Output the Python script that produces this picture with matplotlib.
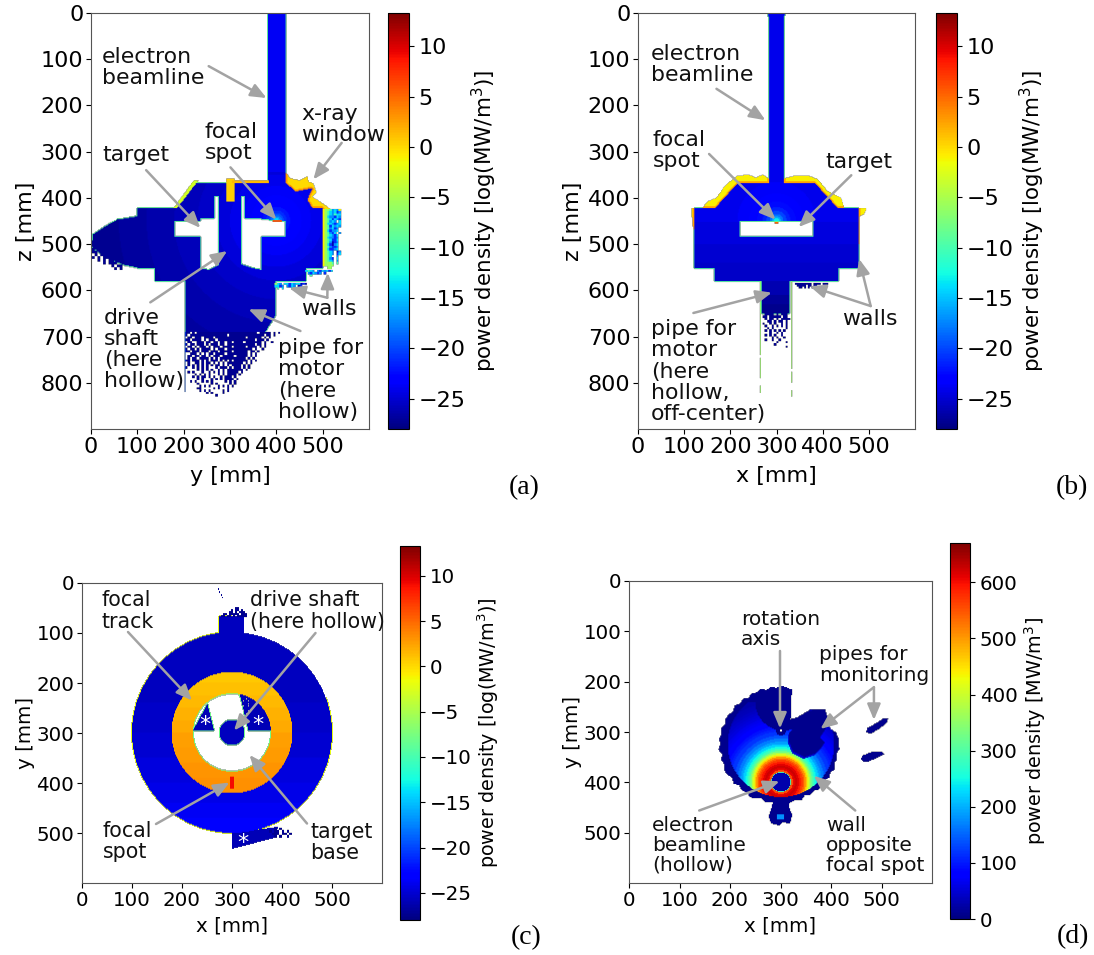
import numpy as np
import matplotlib
matplotlib.use("Agg")
import matplotlib.pyplot as plt
from matplotlib.path import Path

W, H = 1094, 955
CELL = 2
GREY = "#a3a3a3"
LOG_LIM = (-28, 13.3)
LIN_LIM = (0, 670)
LOG_TICKS = [-25, -20, -15, -10, -5, 0, 5, 10]
LIN_TICKS = [0, 100, 200, 300, 400, 500, 600]
KEY = {"y": -1, "g": -6, "t": -10, "c": -14, "l": -17, "b": -21, "n": -26, "#": -27.3}

# ---- panel a, y-z cut [mm]
a_chamber = [(383, 0), (420, 0), (420, 368), (442, 386), (478, 379), (467, 404), (478, 422), (500, 422),
             (500, 551), (463, 551), (463, 580), (397, 580), (397, 656), (370, 700), (345, 735), (325, 753),
             (305, 782), (290, 782), (275, 764), (240, 745), (204, 700), (204, 580), (139, 580), (139, 551),
             (101, 551), (68, 544), (28, 526), (1, 505), (5, 479), (30, 462), (57, 447), (101, 440), (101, 422),
             (180, 422), (225, 368), (383, 368)]
a_hole_left = [(267, 396), (276, 396), (276, 545), (255, 556), (236, 552), (236, 484), (180, 484), (180, 449),
               (236, 449), (236, 443), (267, 443)]
a_hole_right = [(325, 396), (332, 396), (332, 443), (368, 445), (400, 449), (420, 449), (420, 484), (368, 484),
                (368, 556), (350, 552), (325, 544)]
a_window = [(420, 345), (431, 358), (450, 362), (467, 354), (470, 365), (480, 368), (486, 388), (478, 398),
            (500, 412), (517, 424), (500, 424), (478, 422), (467, 404), (478, 379), (442, 386), (420, 368)]
a_post = [(292, 358), (309, 358), (309, 408), (292, 408)]
a_top_strip = [(305, 362), (383, 362), (383, 368), (305, 368)]
a_left_strip = [(178, 422), (222, 362), (232, 362), (186, 422)]
a_spot = [(392, 448), (412, 448), (412, 452), (392, 452)]
a_ring_edges = [5, 8, 12, 16, 22, 30, 40, 55, 75, 100, 130, 170, 220, 280, 340, 400, 460]
a_ring_vals = [-14, -16, -18, -19.5, -21, -22, -22.7, -23.2, -23.6, -24.1, -24.7, -25.3, -25.9, -26.3, -26.8, -27.2, -27.5]
a_beam_val = -23.7
a_wall_right = ["yggtlcly", "ygtclcbl", "ygtcltcc", "ygcllbcl", "ygtcbclb", "ygtlcl.c", "ygcclblc", "ygtbclcl", "ygtlcbl",
                "ygcbllc", "ygtlbc.l", "ygtclbc", "ygcllbl", "ygtcbbc", "ygtlnbl", "ygcbnlc", "ygtlbbl", "ygcbblc", "ygtcl.nl",
                "ygtcl.bc", "ygtc..l", "ygtlb.c", "ygtcl.l", "ygggt.t", "ygggg.", "..gg"]
a_wall_low1 = ["ctcl.lbclcbc", ".lbclbl.b", "..t..."]
a_wall_low2 = ["gcl.ccbclccnbn", "ccbl.lbcl.nb", ".t.c...c.b"]
a_edge_specks = ["#.##.#", "##.#.#.", ".#.##.#", "#.#.###.", "..#.#.##.", "....#.###", ".......#.##", "........#.#"]
a_bottom = ["##.#.##########################.#####.#.#",
            "#.################.###############.##.#",
            ".##.###.####.#############.######.#.#",
            "##.####.#.###.################.###.#",
            ".##..###.##.##.##.##.####.#######.#..#",
            "#.##.###.#.###.##.############.##.#",
            ".##.#.###.#.###.####.#####.####.#.#",
            "#.##.#.####.#.###.###########.#..#",
            "##.###.###.###.#####.######.##.#",
            "..###.#.#.##.####.#########.#.#",
            ".##.##.##.#.###.#####.#####.#.#",
            ".#.##.####.#.#.###########.#.#",
            "##.###.#.#.###.#.#.#.######.#.#",
            ".#..##.#.##.#.#.#.#######.#.#",
            ".#.#.#.#.#.#.##.#.#.####.#.#",
            "#..#.#.#.#...#.###.#.###.#.#",
            ".....#.#.#.#..#.#.#######.#",
            ".#.#...#..#.#.#.#.#####.#",
            "....#.#.#.#...#.#.####.#",
            "...#.#.##.#.#..#.###.#",
            ".....#.#...#.#.#.####.#",
            "..#.#..#.#.#.....#.#.#",
            ".....#.....#.#.....#.#",
            "......#.#.#...#.#.#.#",
            ".....##.....#.#...#",
            "......#.#.#.....#.#",
            ".........#.#....#",
            ".............#",
            ]

# ---- panel b, x-z cut [mm]
b_chamber = [(284, 10), (280, 0), (320, 0), (315, 10), (315, 368), (383, 368), (433, 422), (477, 422), (477, 551),
             (433, 551), (433, 580), (328, 580), (328, 650), (269, 650), (269, 580), (167, 580), (167, 551),
             (122, 551), (122, 422), (167, 422), (216, 368), (284, 368)]
b_hole = [(220, 449), (380, 449), (380, 484), (220, 484)]
b_yellow_left = [(140, 422), (150, 408), (170, 400), (190, 372), (215, 352), (240, 350), (255, 356), (270, 350),
                 (284, 358), (284, 368), (216, 368), (167, 422)]
b_yellow_right = [(315, 368), (315, 358), (340, 352), (370, 352), (390, 360), (410, 385), (440, 400), (447, 422),
                  (433, 422), (383, 368)]
b_yellow_side_l = [(116, 422), (122, 422), (122, 470), (118, 460)]
b_yellow_side_r = [(477, 422), (495, 422), (490, 435), (480, 440), (479, 500), (477, 500)]
b_spot = [(296, 451), (304, 451), (304, 456), (296, 456)]
b_ring_edges = [6, 10, 15, 22, 30, 42, 60, 85, 120]
b_ring_vals = [-13, -16, -18, -20, -21.5, -22.5, -23, -23.5, -24]
b_band_edges = [500, 540, 580, 610, 630, 660]
b_band_vals = [-24.6, -25, -25.4, -26.2, -27, -27.5]
b_beam_val = -24
b_pipe_specks = [".####.#.###.", "##.#####.##.", ".#.##.#.####", "..##.#.##.#.", "#..#.#..#.#.", ".#..#.#.#.#.",
                 "..#.#.....#.", ".#.#.#.#.#..", "...#..#.#...", ".#.#.#..#...", "....#.#..#..", ".#..#..#....",
                 "......#...#.", ".....#......", "..........#."]
b_wall_specks = ["#########.####.###", ".#####.##.##...", "..##.#.#.#"]
b_pipe_left = [(580, 740), (745, 790), (805, 822)]
b_pipe_right = [(580, 770), (775, 800), (815, 830)]

# ---- panel c, x-y cut through the target [mm]
c_tab = [(275, 68), (323, 68), (323, 105), (275, 105)]
c_base_tab = [(301, 500), (392, 488), (385, 510), (301, 532)]
c_left_sector = [(251, 243), (222, 296), (264, 296)]
c_right_sector = [(315, 222), (400, 222), (400, 296), (333, 296)]
c_spot = [(297, 387), (303, 387), (303, 411), (297, 411)]
c_disk_edges = [240, 300, 350, 400, 440, 470, 510]
c_disk_vals = [-25.7, -25.4, -25, -24.6, -24.2, -23.7, -23.4]
c_ring_edges = [200, 225, 250, 275, 300, 330, 360, 390, 425]
c_ring_vals = [0.8, 1.1, 1.4, 1.7, 2.1, 2.5, 2.8, 3.0, 3.2]
c_tab_specks = ["........##....", "......#.##.#..", ".....##.#.###.", "..##.#####.###", ".##.##.#.#####"]
c_top_trace = ["#", "#", ".", ".#", ".#", "..", "...#", "...#", "....", "....#"]
c_base_specks = ["..#.#...", "#.##.#.#.", ".###.##.#", "..#.#..#"]
c_sector_holes = ["..#.", ".#.#", "#..#.", ".#.#", "#..", ".#.#", "..#"]
c_stars = [(245, 283), (352, 283), (322, 520)]

# ---- panel d, x-y cut at the wall [MW/m3]
d_rim_radii = [113, 116, 111, 115, 112, 117, 113, 116, 111, 114, 117, 113, 116, 112, 118, 114, 117, 121, 124, 119,
               116, 120, 114, 118, 122, 117, 120, 116, 122, 118, 121, 124, 119, 122, 118, 124, 120, 123, 119, 122,
               117, 121, 118, 115, 119, 114, 117, 112, 116, 113, 117, 111, 115, 112, 116, 113, 110, 114, 111, 115,
               112, 110, 114, 111, 115, 112, 116, 113, 117, 114, 111, 115]
d_blob = [(317, 303), (334, 280), (364, 256), (387, 256), (394, 276), (387, 296), (377, 312), (387, 322), (370, 342),
          (347, 350), (324, 339), (317, 322)]
d_notch = [(322, 205), (319, 275), (332, 272), (358, 256), (384, 256), (398, 295), (414, 305), (500, 240), (420, 205)]
d_pipe_upper = [(468, 302), (470, 293), (485, 285), (502, 274), (512, 274), (508, 284), (492, 296), (478, 304)]
d_pipe_lower = [(458, 355), (462, 347), (480, 340), (498, 339), (503, 345), (490, 352), (472, 360), (462, 360)]
d_foot = [(285, 430), (316, 430), (316, 450), (322, 465), (318, 482), (304, 480), (296, 486), (280, 482), (276, 468),
          (282, 450)]
d_foot_core = [(292, 464), (306, 464), (306, 474), (292, 474)]
d_ring_edges = [24, 28, 32, 36, 40, 44, 47, 50, 53, 56, 59, 62, 66, 70, 75, 80, 86, 92, 100, 105, 110, 115, 120, 125,
                130, 135, 140, 145, 150, 155, 160, 170, 180, 190, 200, 400]
d_ring_vals = [560, 610, 625, 610, 590, 565, 535, 500, 455, 410, 365, 320, 285, 250, 220, 190, 165, 140, 120, 105, 95,
               85, 78, 70, 63, 57, 51, 46, 41, 36, 32, 27, 22, 17, 14, 12]
d_dark_val = 8
d_hole_val = 28
d_rim_val = 300
d_blob_edge_val = 45


def coords(nx, ny):
    return np.meshgrid((np.arange(nx) + 0.5) * CELL, (np.arange(ny) + 0.5) * CELL)


def inside(poly, X, Y):
    pts = np.c_[X.ravel(), Y.ravel()]
    return Path(poly).contains_points(pts).reshape(X.shape)


def lookup(dist, edges, vals):
    vals = np.array(vals, dtype=float)
    return vals[np.clip(np.searchsorted(edges, dist), 0, len(vals) - 1)]


def dilate(m):
    out = m.copy()
    out[1:, :] |= m[:-1, :]
    out[:-1, :] |= m[1:, :]
    out[:, 1:] |= m[:, :-1]
    out[:, :-1] |= m[:, 1:]
    return out


def paint(grid, rows, x0, y0, cell):
    for j, row in enumerate(rows):
        for i, ch in enumerate(row):
            if ch == ".":
                continue
            ix0, ix1 = int((x0 + i * cell) / CELL), int((x0 + (i + 1) * cell) / CELL)
            iy0, iy1 = int((y0 + j * cell) / CELL), int((y0 + (j + 1) * cell) / CELL)
            grid[iy0:iy1, ix0:ix1] = KEY[ch]


def clear(grid, rows, x0, y0, cell):
    for j, row in enumerate(rows):
        for i, ch in enumerate(row):
            if ch == "#":
                ix, iy = int((x0 + i * cell) / CELL), int((y0 + j * cell) / CELL)
                grid[iy:iy + 1, ix:ix + 1] = np.nan


def panel_a():
    X, Y = coords(300, 450)
    grid = np.full(X.shape, np.nan)
    body = inside(a_chamber, X, Y)
    grid[body] = lookup(np.hypot(X - 400, Y - 449), a_ring_edges, a_ring_vals)[body]
    grid[body & (Y < 345)] = a_beam_val
    grid[Y > 690] = np.nan
    grid[inside(a_hole_left, X, Y) | inside(a_hole_right, X, Y)] = np.nan
    solid = ~np.isnan(grid)
    edge = dilate(solid) & ~solid & (Y < 690)
    grid[edge] = -9
    window = inside(a_window, X, Y) & ~body
    grid[window] = 0
    grid[window & dilate(dilate(body))] = 3
    grid[inside(a_post, X, Y)] = 0.5
    grid[inside(a_top_strip, X, Y)] = 1.5
    grid[inside(a_left_strip, X, Y)] = -3
    grid[inside(a_spot, X, Y)] = 6
    paint(grid, a_wall_right, 500, 424, 5)
    paint(grid, a_wall_low1, 463, 556, 5)
    paint(grid, a_wall_low2, 397, 584, 5)
    paint(grid, a_edge_specks, 2, 508, 6)
    paint(grid, a_bottom, 204, 690, 5)
    grid[(np.abs(X - 203) < 1.5) & (Y > 690) & (Y < 820)] = -19
    return grid


def panel_b():
    X, Y = coords(300, 450)
    grid = np.full(X.shape, np.nan)
    body = inside(b_chamber, X, Y)
    field = lookup(Y, b_band_edges, b_band_vals)
    upper = Y < 452
    field[upper] = lookup(np.hypot(X - 300, Y - 450), b_ring_edges, b_ring_vals)[upper]
    grid[body] = field[body]
    grid[body & (Y < 345)] = b_beam_val
    grid[inside(b_hole, X, Y)] = np.nan
    solid = ~np.isnan(grid)
    edge = dilate(solid) & ~solid
    grid[edge] = -9
    for poly in (b_yellow_left, b_yellow_right, b_yellow_side_l, b_yellow_side_r):
        m = inside(poly, X, Y) & ~body
        grid[m] = -1
        grid[m & dilate(dilate(body))] = 2.5
    grid[inside(b_spot, X, Y)] = 5
    paint(grid, b_pipe_specks, 270, 650, 5)
    paint(grid, b_wall_specks, 340, 584, 4)
    for x, segs in ((265, b_pipe_left), (333, b_pipe_right)):
        for z0, z1 in segs:
            grid[(np.abs(X - x) < 2) & (Y > z0) & (Y < z1)] = -6
    return grid


def panel_c():
    X, Y = coords(300, 300)
    grid = np.full(X.shape, np.nan)
    r = np.hypot(X - 300, Y - 300)
    disk = (r < 200) | inside(c_tab, X, Y)
    grid[disk] = lookup(Y, c_disk_edges, c_disk_vals)[disk]
    ring = r < 121
    grid[ring] = lookup(Y, c_ring_edges, c_ring_vals)[ring]
    grid[r < 78] = np.nan
    for poly in (c_left_sector, c_right_sector):
        m = inside(poly, X, Y) & (r < 78) & (r > 32)
        grid[m] = -26
    grid[r < 25] = -25.7
    solid = ~np.isnan(grid)
    rim = dilate(solid) & ~solid
    grid[rim & (r < 100)] = -8
    grid[rim & (r > 150) & ~((X > 300) & (Y < 230))] = -2
    grid[inside(c_spot, X, Y)] = 9
    grid[inside(c_base_tab, X, Y) & (r >= 200)] = -26
    clear(grid, c_sector_holes, 318, 232, 5)
    paint(grid, c_tab_specks, 275, 50, 4)
    paint(grid, c_top_trace, 272, 12, 2)
    paint(grid, c_base_specks, 375, 490, 5)
    return grid


def panel_d():
    X, Y = coords(300, 300)
    grid = np.full(X.shape, np.nan)
    angles = np.radians(np.arange(0, 360, 5))
    rim = [(300 + q * np.cos(t), 325 + q * np.sin(t)) for q, t in zip(d_rim_radii, angles)]
    grid[inside(rim, X, Y)] = d_dark_val
    grid[inside(d_foot, X, Y)] = d_dark_val
    grid[inside(d_foot_core, X, Y)] = 180
    disc = np.hypot(X - 300, Y - 325) < 105
    r = np.hypot(X - 300, Y - 400)
    grid[disc] = lookup(r, d_ring_edges, d_ring_vals)[disc]
    grid[disc & (np.hypot(X - 305, Y - 242) < 56)] = d_dark_val
    grid[disc & (Y < 242)] = d_dark_val
    grid[r < 20] = d_rim_val
    grid[r < 19] = d_hole_val
    grid[inside(d_notch, X, Y)] = np.nan
    grid[inside([(x - 2, y + 4) for x, y in d_blob], X, Y)] = d_blob_edge_val
    grid[inside(d_blob, X, Y)] = d_dark_val
    dot = np.hypot(X - 300, Y - 298)
    grid[dot < 10] = d_dark_val
    grid[dot < 3] = np.nan
    grid[inside(d_pipe_upper, X, Y) | inside(d_pipe_lower, X, Y)] = d_dark_val
    return grid


def px_rect(l, t, r, b):
    return [l / W, 1 - b / H, (r - l) / W, (b - t) / H]


def draw(fig, grid, rect, cbar_rect, lim, ticks, xlab, ylab, clab, fs, tick_fs, clab_fs, ymax, texts, arrows, pads):
    ax = fig.add_axes(px_rect(*rect))
    im = ax.imshow(grid, cmap="jet", vmin=lim[0], vmax=lim[1], extent=[0, 600, ymax, 0], aspect="auto",
                   interpolation="bilinear")
    ax.set_xticks(range(0, 600, 100))
    ax.set_yticks(range(0, ymax, 100))
    ax.tick_params(labelsize=tick_fs, pad=2)
    ax.set_xlabel(xlab, fontsize=tick_fs, labelpad=pads[0])
    ax.set_ylabel(ylab, fontsize=tick_fs, labelpad=pads[1])
    for s in ax.spines.values():
        s.set_color("#555555")
    cax = fig.add_axes(px_rect(*cbar_rect))
    cb = fig.colorbar(im, cax=cax, ticks=ticks)
    cb.ax.tick_params(labelsize=tick_fs)
    cb.set_label(clab, fontsize=clab_fs, labelpad=3)
    for (tx, ty), (hx, hy) in arrows:
        ax.annotate("", xy=(hx, hy), xytext=(tx, ty),
                    arrowprops=dict(arrowstyle="-|>,head_length=0.95,head_width=0.4", lw=1.8, color=GREY,
                                    shrinkA=0, shrinkB=0, mutation_scale=10))
    for x, y, s in texts:
        ax.text(x, y, s, fontsize=fs, ha="left", va="center", linespacing=1.08, color="#111111")
    return ax


fig = plt.figure(figsize=(W / 100, H / 100), dpi=100)

LOG_LABEL = "power density [log(MW/m$^3$)]"
draw(fig, panel_a(), (91, 13, 369, 429), (388, 13, 409, 429), LOG_LIM, LOG_TICKS, "y [mm]", "z [mm]", LOG_LABEL,
     15.8, 16, 15.4, 900,
     [(24, 118, "electron\nbeamline"), (454, 241, "x-ray\nwindow"), (245, 280, "focal\nspot"), (25, 308, "target"),
      (28, 728, "drive\nshaft\n(here\nhollow)"), (403, 794, "pipe for\nmotor\n(here\nhollow)"), (454, 641, "walls")],
     [((254, 115), (379, 184)), ((541, 281), (480, 360)), ((301, 334), (400, 447)), ((119, 340), (236, 465)),
      ((128, 626), (294, 515)), ((452, 688), (340, 641)), ((510, 616), (428, 595)), ((510, 616), (511, 562))],
     (7, 3))

draw(fig, panel_b(), (638, 13, 915, 429), (936, 13, 957, 429), LOG_LIM, LOG_TICKS, "x [mm]", "z [mm]", LOG_LABEL,
     15.8, 16, 15.4, 900,
     [(28, 112, "electron\nbeamline"), (32, 297, "focal\nspot"), (405, 322, "target"),
      (28, 776, "pipe for\nmotor\n(here\nhollow,\noff-center)"), (443, 663, "walls")],
     [((170, 164), (276, 232)), ((154, 305), (298, 447)), ((462, 351), (348, 463)), ((120, 649), (290, 605)),
      ((504, 634), (372, 591)), ((504, 634), (479, 532))],
     (7, 3))

ax_c = draw(fig, panel_c(), (82, 583, 382, 883), (400, 546, 420, 920), LOG_LIM, LOG_TICKS, "x [mm]", "y [mm]", LOG_LABEL,
            14.8, 14.3, 13.8, 600,
            [(40, 56, "focal\ntrack"), (337, 56, "drive shaft\n(here hollow)"), (41, 517, "focal\nspot"),
             (457, 519, "target\nbase")],
            [((92, 98), (220, 235)), ((467, 100), (304, 295)), ((148, 482), (295, 399)), ((450, 481), (335, 344))],
            (5, 1))
for x, y in c_stars:
    ax_c.text(x, y, "*", color="white", fontsize=16, ha="center", va="center")

draw(fig, panel_d(), (629, 581, 932, 883), (950, 543, 970, 919), LIN_LIM, LIN_TICKS, "x [mm]", "y [mm]",
     "power density [MW/m$^3$]", 14.5, 14.3, 13.9, 600,
     [(222, 96, "rotation\naxis"), (377, 167, "pipes for\nmonitoring"), (46, 525, "electron\nbeamline\n(hollow)"),
      (390, 525, "wall\nopposite\nfocal spot")],
     [((299, 139), (299, 293)), ((485, 211), (379, 294)), ((485, 211), (485, 276)), ((139, 456), (298, 398)),
      ((448, 456), (366, 387))],
     (5, 1))

for s, x, y in (("(a)", 540, 488), ("(b)", 1088, 488), ("(c)", 541, 938), ("(d)", 1089, 937)):
    fig.text(x / W, 1 - y / H, s, family="Liberation Serif", fontsize=20, ha="right", va="center")

fig.savefig("out.png", dpi=100)
